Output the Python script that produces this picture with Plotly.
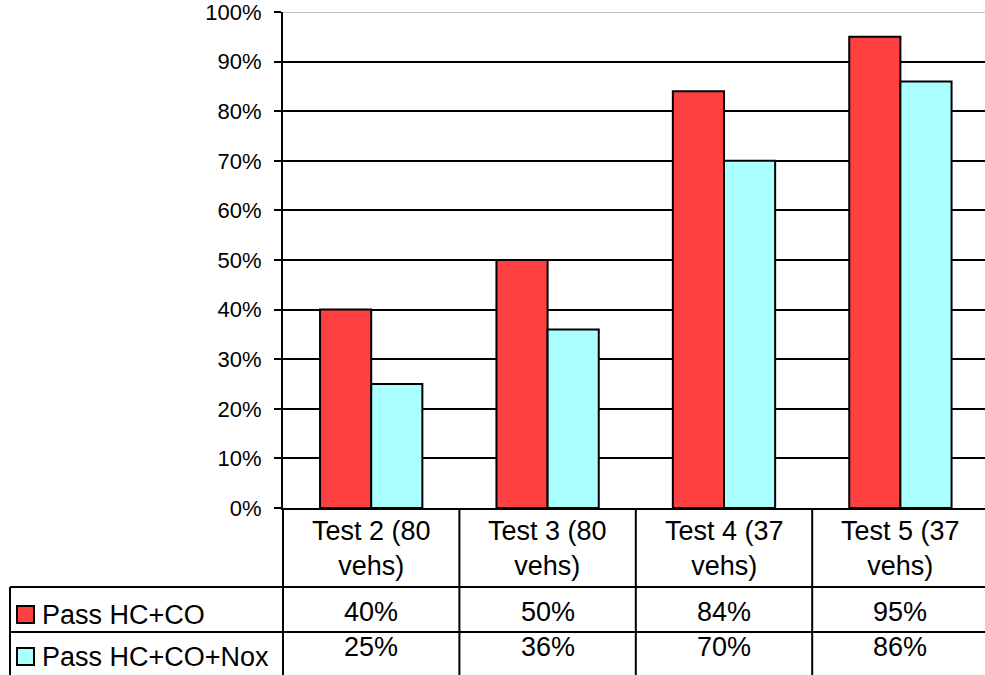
import plotly.graph_objects as go

# Chart data
categories = ["Test 2 (80 vehs)", "Test 3 (80 vehs)", "Test 4 (37 vehs)", "Test 5 (37 vehs)"]
series_names = ["Pass HC+CO", "Pass HC+CO+Nox"]
pass_hc_co = [40, 50, 84, 95]
pass_hc_co_nox = [25, 36, 70, 86]
series_values = [pass_hc_co, pass_hc_co_nox]
series_colors = ["#FF4040", "#AAFFFF"]
y_ticks = list(range(0, 101, 10))

FONT = "Liberation Sans, Arial, sans-serif"
TABLE_FONT_SIZE = 27
W, H = 985, 675
M_L, M_R, M_T, M_B = 283, 0, 12, 167
PLOT_H = H - M_T - M_B
PLOT_W = W - M_L - M_R


def py(p):
    """Pixel row -> paper y."""
    return (H - M_B - p) / PLOT_H


def px(p):
    """Pixel column -> paper x."""
    return (p - M_L) / PLOT_W


x_idx = list(range(len(categories)))
fig = go.Figure()
for name, vals, col in zip(series_names, series_values, series_colors):
    fig.add_trace(go.Bar(
        x=x_idx, y=vals, name=name,
        marker=dict(color=col, line=dict(color="black", width=2)),
        showlegend=False, hoverinfo="skip",
    ))

shapes = []
annotations = []

# grey line at the top of the value range
shapes.append(dict(type="line", xref="paper", yref="y", x0=0, x1=1, y0=100, y1=100,
                   line=dict(color="#C0C0C0", width=2), layer="above"))

# data table grid
line_style = dict(color="black", width=2)
y_row1 = py(587)
y_row2 = py(632)
y_bot = py(677)
for yy in (y_row1, y_row2):
    shapes.append(dict(type="line", xref="paper", yref="paper", x0=px(10), x1=1.01,
                       y0=yy, y1=yy, line=line_style))
shapes.append(dict(type="line", xref="paper", yref="paper", x0=px(10), x1=px(10),
                   y0=y_row1, y1=y_bot, line=line_style))
shapes.append(dict(type="line", xref="paper", yref="paper", x0=0, x1=0,
                   y0=0, y1=y_bot, line=line_style))
for i in range(len(categories) - 1):
    shapes.append(dict(type="line", xref="x", yref="paper", x0=i + 0.5, x1=i + 0.5,
                       y0=0, y1=y_bot, line=line_style))

# category header cells
for i, c in enumerate(categories):
    annotations.append(dict(
        x=i, y=py(548), xref="x", yref="paper", text=c.replace(" vehs)", "<br>vehs)"),
        showarrow=False, xanchor="center", yanchor="middle",
        font=dict(family=FONT, size=TABLE_FONT_SIZE, color="black"),
    ))

# value rows with legend keys
row_centers = [612, 647]
key_centers = [614.5, 656.5]
for name, vals, col, rc, kc in zip(series_names, series_values, series_colors,
                                   row_centers, key_centers):
    shapes.append(dict(type="rect", xref="paper", yref="paper",
                       x0=px(17), x1=px(34), y0=py(kc - 8.5), y1=py(kc + 8.5),
                       fillcolor=col, line=dict(color="black", width=2)))
    annotations.append(dict(
        x=px(40), y=py(kc), xref="paper", yref="paper", text=name,
        showarrow=False, xanchor="left", yanchor="middle",
        font=dict(family=FONT, size=TABLE_FONT_SIZE, color="black"),
    ))
    for i, v in enumerate(vals):
        annotations.append(dict(
            x=i, y=py(rc), xref="x", yref="paper", text=f"{v}%",
            showarrow=False, xanchor="center", yanchor="middle",
            font=dict(family=FONT, size=TABLE_FONT_SIZE, color="black"),
        ))

fig.update_layout(
    width=W, height=H,
    margin=dict(l=M_L, r=M_R, t=M_T, b=M_B, pad=0),
    paper_bgcolor="white", plot_bgcolor="white",
    barmode="group", bargap=0.42, bargroupgap=0,
    shapes=shapes, annotations=annotations,
    xaxis=dict(
        range=[-0.5, -0.5 + PLOT_W / 176.4], showticklabels=False, ticks="",
        showgrid=False, zeroline=False, showline=True, linecolor="black", linewidth=2,
        fixedrange=True,
    ),
    yaxis=dict(
        range=[0, 100], tickvals=y_ticks, ticktext=[f"{t}%" for t in y_ticks],
        ticks="outside", ticklen=7, tickwidth=2, tickcolor="black",
        showgrid=True, gridcolor="black", gridwidth=2, zeroline=False,
        showline=True, linecolor="black", linewidth=2,
        tickfont=dict(family=FONT, size=22, color="black"),
        ticklabelstandoff=8, ticklabeloverflow="allow", fixedrange=True,
    ),
)

fig.write_html("out.html")
